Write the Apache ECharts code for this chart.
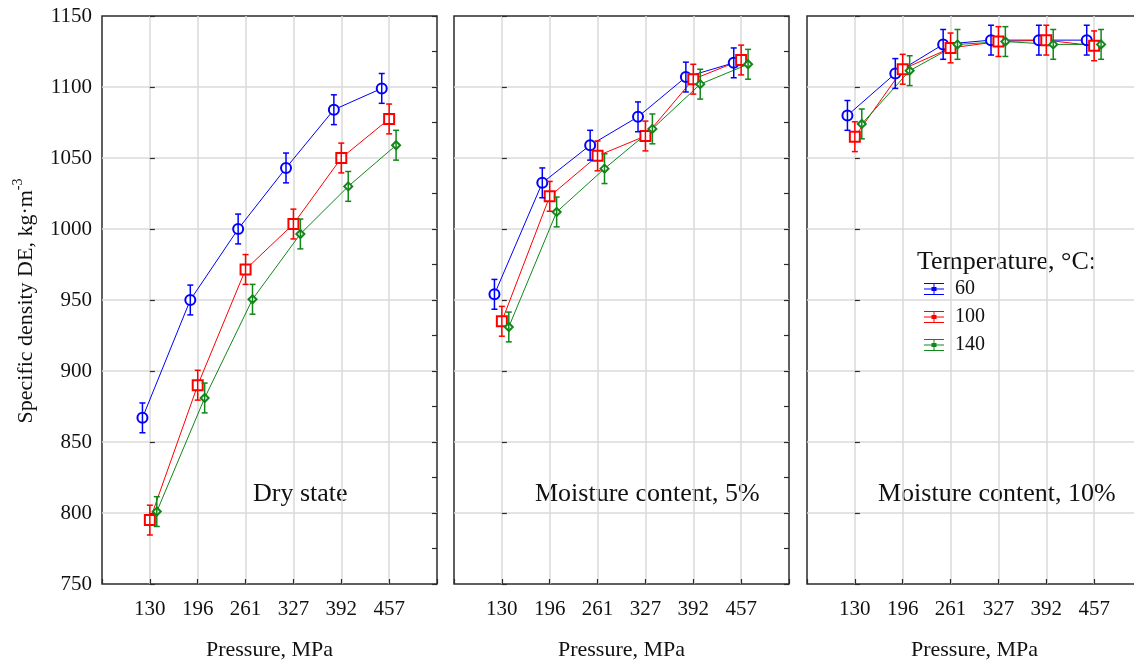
<!DOCTYPE html>
<html>
<head>
<meta charset="utf-8">
<script src="https://cdn.jsdelivr.net/npm/echarts@6/dist/echarts.min.js"></script>
<style>
html,body{margin:0;padding:0;background:#fff;}
#chart{width:1134px;height:661px;}
</style>
</head>
<body>
<div id="chart"></div>
<script>
// ---- data ----
const categories = ['130', '196', '261', '327', '392', '457'];
const seriesNames = ['60', '100', '140'];
const panelTitles = ['Dry state', 'Moisture content, 5%', 'Moisture content, 10%'];

// Dry state
const dry60  = [867, 950, 1000, 1043, 1084, 1099];
const dry100 = [795, 890, 971.5, 1003.5, 1050, 1077.5];
const dry140 = [801, 881, 950.5, 996.5, 1030, 1059];
// Moisture content 5%
const m5_60  = [954, 1032.5, 1059, 1079, 1107, 1117];
const m5_100 = [935, 1023, 1051.5, 1065.5, 1105.5, 1119];
const m5_140 = [931, 1012, 1042.5, 1070.5, 1102, 1116];
// Moisture content 10%
const m10_60  = [1080, 1109.5, 1130, 1133, 1133, 1133];
const m10_100 = [1065, 1112.5, 1127.5, 1132, 1133, 1129];
const m10_140 = [1074, 1111.5, 1130, 1132, 1130, 1130];
// error half-widths (confidence intervals)
const dryErr = [10.5, 10.5, 10.5, 10.5, 10.5, 10.5];
const m5Err  = [10.5, 10.5, 10.5, 10.5, 10.5, 10.5];
const m10Err = [10.5, 10.5, 10.5, 10.5, 10.5, 10.5];

const yTickMin = 750, yTickMax = 1150, yTickStep = 50;

// ---- styles ----
const FONT = 'Liberation Serif';
const colors = ['#0000ff', '#ff0000', '#11871a'];
const symbols = ['emptyCircle', 'emptyRect', 'emptyDiamond'];
const symbolSizes = [10, 10, 8];
const offsets = [-0.155, 0, 0.145];
const gridLefts = [102, 454, 807];
const gridW = 335;

const panels = [
  {vals: [dry60, dry100, dry140], err: dryErr},
  {vals: [m5_60, m5_100, m5_140], err: m5Err},
  {vals: [m10_60, m10_100, m10_140], err: m10Err}
];

const grids = [], xAxes = [], yAxes = [], series = [];
panels.forEach((p, i) => {
  grids.push({left: gridLefts[i], width: gridW, top: 16, height: 568, show: true,
    outerBoundsMode: 'none', containLabel: false,
    borderColor: '#2b2b2b', borderWidth: 1.5, backgroundColor: 'transparent'});
  xAxes.push({
    gridIndex: i, type: 'value', min: -1, max: 6, interval: 1,
    axisLine: {show: false},
    axisTick: {show: true, inside: true, length: 5, lineStyle: {color: '#2b2b2b', width: 1.2}},
    splitLine: {show: true, showMinLine: false, showMaxLine: false, lineStyle: {color: '#dadada', width: 1.5}},
    axisLabel: {formatter: v => categories[v] || '', fontFamily: FONT, fontSize: 21, color: '#111', margin: 15},
    name: 'Pressure, MPa', nameLocation: 'middle', nameGap: 55,
    nameTextStyle: {fontFamily: FONT, fontSize: 22, color: '#111'}
  });
  yAxes.push({
    gridIndex: i, type: 'value', min: yTickMin, max: yTickMax, interval: yTickStep,
    axisLine: {show: false},
    axisTick: {show: true, inside: true, length: 5, lineStyle: {color: '#2b2b2b', width: 1.2}},
    splitLine: {show: true, showMinLine: false, showMaxLine: false, lineStyle: {color: '#dadada', width: 1.5}},
    axisLabel: {show: i === 0, formatter: v => String(v), fontFamily: FONT, fontSize: 21, color: '#111', margin: 10}
  });
  yAxes.push({
    gridIndex: i, type: 'value', position: 'right', min: yTickMin, max: yTickMax, interval: yTickStep / 2,
    axisLine: {show: false},
    axisTick: {show: true, inside: true, length: 5, lineStyle: {color: '#2b2b2b', width: 1.2}},
    splitLine: {show: false},
    axisLabel: {show: false}
  });
  p.vals.forEach((vals, s) => {
    series.push({
      name: seriesNames[s], type: 'line', xAxisIndex: i, yAxisIndex: i * 2,
      data: vals.map((v, k) => [k + offsets[s], v]),
      symbol: symbols[s], symbolSize: symbolSizes[s],
      itemStyle: {color: colors[s], borderWidth: 1.3},
      lineStyle: {color: colors[s], width: 1},
      z: 3, animation: false
    });
    const col = colors[s];
    series.push({
      name: seriesNames[s] + ' err', type: 'custom', xAxisIndex: i, yAxisIndex: i * 2,
      data: vals.map((v, k) => [k + offsets[s], v - p.err[k], v + p.err[k]]),
      encode: {x: 0, y: [1, 2]},
      renderItem: function (params, api) {
        const x = api.value(0);
        const a = api.coord([x, api.value(2)]);
        const b = api.coord([x, api.value(1)]);
        const hw = 3;
        const st = {stroke: col, lineWidth: 1.5};
        return {type: 'group', children: [
          {type: 'line', shape: {x1: a[0], y1: a[1], x2: b[0], y2: b[1]}, style: st},
          {type: 'line', shape: {x1: a[0] - hw, y1: a[1], x2: a[0] + hw, y2: a[1]}, style: st},
          {type: 'line', shape: {x1: b[0] - hw, y1: b[1], x2: b[0] + hw, y2: b[1]}, style: st}
        ]};
      },
      z: 4, animation: false
    });
  });
});

const legendIcon = 'path://M0,0H20V1H0Z M0,5.5H20V6.5H0Z M0,11H20V12H0Z M9.5,0H10.5V12H9.5Z M7.5,4H12.5V8H7.5Z';

const option = {
  backgroundColor: '#fff',
  animation: false,
  grid: grids,
  xAxis: xAxes,
  yAxis: yAxes,
  series: series,
  legend: {
    left: 919, top: 274, orient: 'vertical', itemWidth: 20, itemHeight: 12, itemGap: 8,
    icon: legendIcon,
    textStyle: {fontFamily: FONT, fontSize: 20, color: '#111', padding: [0, 0, 0, 6]},
    data: seriesNames.map((n, s) => ({name: n, itemStyle: {color: colors[s], borderWidth: 0}}))
  },
  graphic: [
    {type: 'text', left: 253, top: 481, style: {text: panelTitles[0], fontFamily: FONT, fontSize: 26, fill: '#111'}},
    {type: 'text', left: 535, top: 481, style: {text: panelTitles[1], fontFamily: FONT, fontSize: 26, fill: '#111'}},
    {type: 'text', left: 878, top: 481, style: {text: panelTitles[2], fontFamily: FONT, fontSize: 26, fill: '#111'}},
    {type: 'text', left: 917, top: 249, style: {text: 'Temperature, °C:', fontFamily: FONT, fontSize: 26, fill: '#111'}},
    {type: 'text', x: 24, y: 301, rotation: Math.PI / 2,
      style: {
        text: '{a|Specific density DE, kg·m}{s|-3}',
        align: 'center', verticalAlign: 'middle',
        rich: {
          a: {fontFamily: FONT, fontSize: 22, fill: '#111', lineHeight: 26, verticalAlign: 'bottom'},
          s: {fontFamily: FONT, fontSize: 14, fill: '#111', lineHeight: 26, verticalAlign: 'top'}
        }
      }}
  ]
};

const chart = echarts.init(document.getElementById('chart'), null, {renderer: 'canvas'});
chart.setOption(option);
</script>
</body>
</html>
